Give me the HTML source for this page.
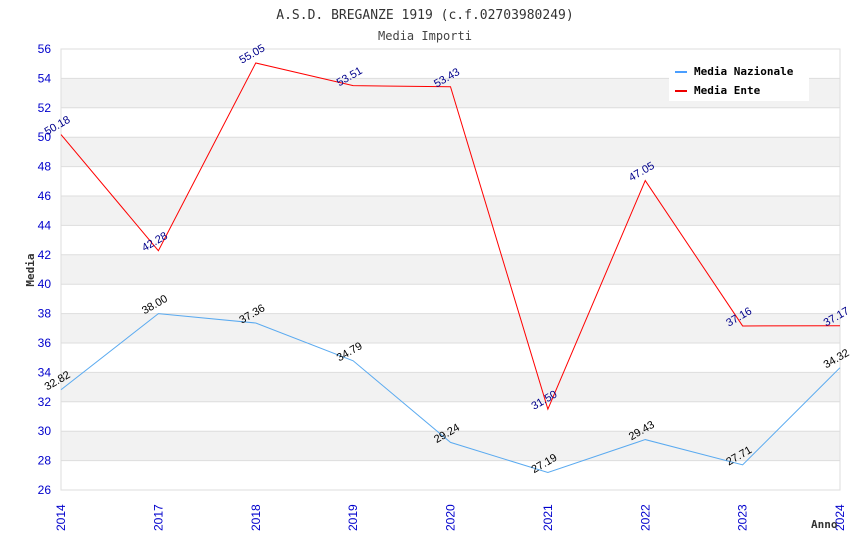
<!DOCTYPE html>
<html><head><meta charset="utf-8"><style>
body{margin:0;background:#fff;}
svg text{font-family:"Liberation Sans",sans-serif;}
svg text.mono{font-family:"DejaVu Sans Mono","Liberation Mono",monospace;}
</style></head><body>
<svg id="chart" width="850" height="550" xmlns="http://www.w3.org/2000/svg">
<text class="mono" x="425" y="19" text-anchor="middle" font-size="13" fill="#333">A.S.D. BREGANZE 1919 (c.f.02703980249)</text>
<text class="mono" x="425" y="40" text-anchor="middle" font-size="12" fill="#444">Media Importi</text>
<g id="bands"></g><g id="grid"></g>
<rect x="61" y="49" width="779" height="441" fill="none" stroke="#ddd"/>
<g id="yticks"></g><g id="xticks"></g>
<text class="mono" transform="translate(34,270) rotate(-90)" text-anchor="middle" font-size="11" font-weight="bold" fill="#333">Media</text>
<text class="mono" x="811" y="528" font-size="11" font-weight="bold" fill="#333">Anno</text>
<g id="series"></g>
<g>
<rect x="669" y="60" width="140" height="41" fill="#fff"/>
<line x1="675" y1="72" x2="687" y2="72" stroke="#4a9eff" stroke-width="2"/>
<text class="mono" x="694" y="75" font-size="11" font-weight="bold" fill="#000">Media Nazionale</text>
<line x1="675" y1="91" x2="687" y2="91" stroke="#e00" stroke-width="2"/>
<text class="mono" x="694" y="94" font-size="11" font-weight="bold" fill="#000">Media Ente</text>
</g>
</svg>
<script>
const categories=["2014","2017","2018","2019","2020","2021","2022","2023","2024"];
const nazionale=[32.82,38.00,37.36,34.79,29.24,27.19,29.43,27.71,34.32];
const ente=[50.18,42.28,55.05,53.51,53.43,31.50,47.05,37.16,37.17];
const yTicks=[26,28,30,32,34,36,38,40,42,44,46,48,50,52,54,56];
const NS="http://www.w3.org/2000/svg";
const L=61,R=840,T=49,B=490,yMin=26,yMax=56;
const xs=i=>L+(R-L)*i/(categories.length-1);
const ys=v=>B-(v-yMin)/(yMax-yMin)*(B-T);
function mk(tag,attrs,parent){const e=document.createElementNS(NS,tag);for(const k in attrs)e.setAttribute(k,attrs[k]);document.getElementById(parent).appendChild(e);return e;}
for(let i=0;i<yTicks.length-1;i++){
  if(yTicks[i]%4===0){const r=mk('rect',{x:L,y:ys(yTicks[i]+2),width:R-L,height:ys(yTicks[i])-ys(yTicks[i]+2),fill:'#f2f2f2'},'bands');
  
  }
}
yTicks.forEach(v=>{
  const l=mk('line',{x1:L,x2:R,y1:ys(v),y2:ys(v),stroke:'#ddd'},'grid');
  
  
  const t=mk('text',{x:51,y:ys(v)+4,'text-anchor':'end','font-size':12,fill:'#00c'},'yticks');
  
  
  t.textContent=v;
});
categories.forEach((c,i)=>{
  const t=mk('text',{transform:`translate(${xs(i)+4},${531}) rotate(-90)`,'font-size':12,fill:'#00c'},'xticks');
  
  
  t.textContent=c;
});
function series(vals,color,lblColor,name){
  const p=mk('polyline',{points:vals.map((v,i)=>xs(i)+','+ys(v)).join(' '),fill:'none',stroke:color,'stroke-width':1},'series');
  
  
  vals.forEach((v,i)=>{
    const t=mk('text',{transform:`translate(${xs(i)-2},${ys(v)-6}) rotate(-30)`,'text-anchor':'middle','font-size':11,fill:lblColor},'series');
    
    
    t.textContent=v.toFixed(2);
  });
}
series(nazionale,'#5aaaf0','#000','nazionale');
series(ente,'#f00','#00008b','ente');
</script>
</body></html>
